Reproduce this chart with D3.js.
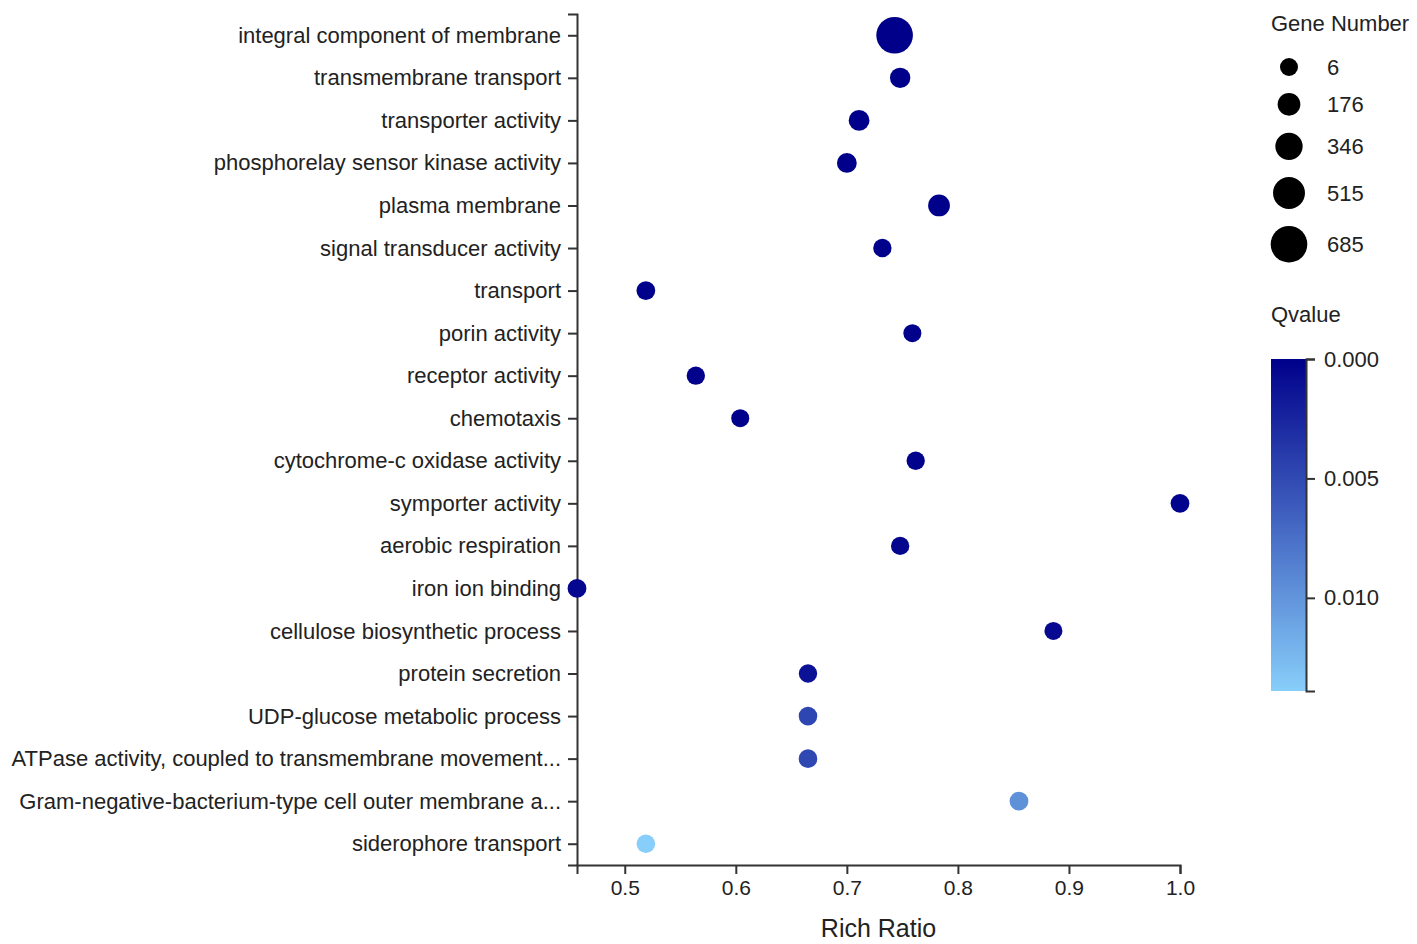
<!DOCTYPE html>
<html>
<head>
<meta charset="utf-8">
<script src="https://cdn.jsdelivr.net/npm/d3@7"></script>
<style>
  body { margin: 0; background: #fff; }
  svg text { font-family: "Liberation Sans", Arial, sans-serif; fill: #222; }
  .axis path, .axis line { stroke: #333; stroke-width: 2; }
</style>
</head>
<body>
<div id="chart"></div>
<script>
// GO terms, top (most significant) to bottom
const terms = [
  'integral component of membrane',
  'transmembrane transport',
  'transporter activity',
  'phosphorelay sensor kinase activity',
  'plasma membrane',
  'signal transducer activity',
  'transport',
  'porin activity',
  'receptor activity',
  'chemotaxis',
  'cytochrome-c oxidase activity',
  'symporter activity',
  'aerobic respiration',
  'iron ion binding',
  'cellulose biosynthetic process',
  'protein secretion',
  'UDP-glucose metabolic process',
  'ATPase activity, coupled to transmembrane movement...',
  'Gram-negative-bacterium-type cell outer membrane a...',
  'siderophore transport'
];
const richRatio = [0.743, 0.748, 0.711, 0.700, 0.783, 0.732, 0.519, 0.759, 0.564, 0.604,
  0.762, 1.0, 0.748, 0.457, 0.886, 0.665, 0.665, 0.665, 0.855, 0.519];
const geneNumber = [685, 93, 107, 71, 143, 20, 35, 6, 20, 8,
  20, 35, 20, 35, 8, 20, 28, 28, 35, 30];
const qvalue = [0, 0, 0, 0.00001, 0.00002, 0.00003, 0.00005, 0.00008, 0.0001, 0.00015,
  0.0002, 0.0003, 0.0004, 0.0005, 0.0007, 0.0012, 0.0047, 0.0049, 0.0098, 0.0139];
const sizeLegendValues = [6, 176, 346, 515, 685];
const qTicks = [0, 0.005, 0.010];

const W = 1417, H = 944;
const plotLeft = 577, plotRight = 1180, plotTop = 14, plotBottom = 865;

const rows = terms.map((t, i) => ({ term: t, ratio: richRatio[i], genes: geneNumber[i], q: qvalue[i] }));

const svg = d3.select('#chart').append('svg')
  .attr('width', W).attr('height', H)
  .attr('viewBox', `0 0 ${W} ${H}`);

const x = d3.scaleLinear().domain(d3.extent(richRatio)).range([plotLeft, plotRight]);
const y = d3.scalePoint().domain(terms).range([plotTop, plotBottom]).padding(0.5);
const r = d3.scaleLinear().domain(d3.extent(geneNumber)).range([9, 18.3]);
const qMax = d3.max(qvalue);
const color = d3.scaleLinear().domain([0, qMax]).range(['#00008b', '#87cefa']);

// axes
svg.append('g')
  .attr('class', 'axis')
  .attr('transform', `translate(${plotLeft},0)`)
  .call(d3.axisLeft(y).tickSize(9).tickPadding(7))
  .call((g) => g.selectAll('text').style('font-size', '22px'));

svg.append('g')
  .attr('class', 'axis')
  .attr('transform', `translate(0,${plotBottom})`)
  .call(d3.axisBottom(x).tickValues([0.5, 0.6, 0.7, 0.8, 0.9, 1.0]).tickFormat(d3.format('.1f')).tickSize(9).tickPadding(6))
  .call((g) => g.selectAll('text').style('font-size', '21px'));

svg.selectAll('.axis text').attr('fill', '#222');

svg.append('text')
  .attr('x', (plotLeft + plotRight) / 2)
  .attr('y', 937)
  .attr('text-anchor', 'middle')
  .style('font-size', '25px')
  .text('Rich Ratio');

// points
svg.append('g')
  .selectAll('circle')
  .data(rows)
  .join('circle')
  .attr('cx', (d) => x(d.ratio))
  .attr('cy', (d) => y(d.term))
  .attr('r', (d) => r(d.genes))
  .attr('fill', (d) => color(d.q));

// size legend
svg.append('text')
  .attr('x', 1271).attr('y', 31)
  .style('font-size', '22px')
  .text('Gene Number');

let ly = 67;
const legendPos = sizeLegendValues.map((v, i) => {
  if (i > 0) ly += r(sizeLegendValues[i - 1]) + r(v) + 17;
  return { v, cy: ly };
});
const sizeLeg = svg.append('g')
  .selectAll('g')
  .data(legendPos)
  .join('g')
  .attr('transform', (d) => `translate(1289,${d.cy})`);
sizeLeg.append('circle').attr('r', (d) => r(d.v)).attr('fill', '#000');
sizeLeg.append('text')
  .attr('x', 38).attr('dy', '0.35em')
  .style('font-size', '22px')
  .text((d) => d.v);

// colour legend
svg.append('text')
  .attr('x', 1271).attr('y', 322)
  .style('font-size', '22px')
  .text('Qvalue');

const cbTop = 359, cbBottom = 691, cbX = 1271, cbW = 35;
const grad = svg.append('defs').append('linearGradient')
  .attr('id', 'qgrad').attr('x1', 0).attr('y1', 0).attr('x2', 0).attr('y2', 1);
grad.selectAll('stop')
  .data(d3.range(0, 1.0001, 0.1))
  .join('stop')
  .attr('offset', (t) => t)
  .attr('stop-color', (t) => color(t * qMax));

svg.append('rect')
  .attr('x', cbX).attr('y', cbTop)
  .attr('width', cbW).attr('height', cbBottom - cbTop)
  .attr('fill', 'url(#qgrad)');

const qScale = d3.scaleLinear().domain([0, qMax]).range([cbTop, cbBottom]);
svg.append('g')
  .attr('class', 'axis')
  .attr('transform', `translate(${cbX + cbW},0)`)
  .call(d3.axisRight(qScale).tickValues(qTicks).tickFormat(d3.format('.3f')).tickSize(9).tickPadding(9))
  .call((g) => g.selectAll('text').style('font-size', '22px').attr('fill', '#222'));
</script>
</body>
</html>
